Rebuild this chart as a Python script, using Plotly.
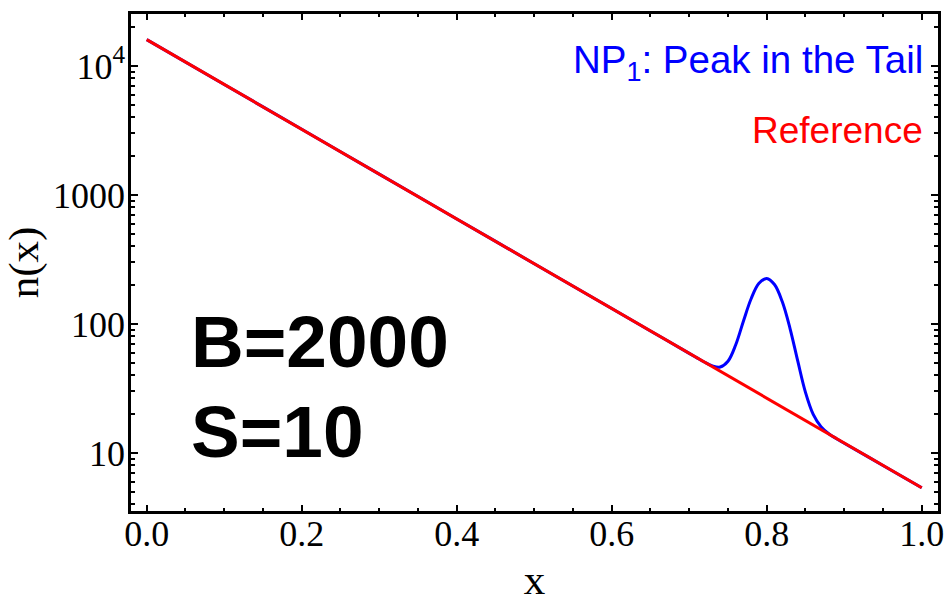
import plotly.graph_objects as go

# Reference spectrum: a pure exponential, straight on the log axis
ref_x = [0.0, 1.0]
ref_n = [16000.0, 5.37]

# New-physics spectrum: the same falling exponential with a bump near x = 0.8
np_x = [0.0, 0.1, 0.2, 0.3, 0.4, 0.5, 0.6, 0.65,
        0.70, 0.71, 0.72, 0.73, 0.74, 0.75, 0.76, 0.77, 0.78, 0.79,
        0.80, 0.81, 0.82, 0.83, 0.84, 0.85, 0.86, 0.87, 0.88, 0.89,
        0.90, 0.95, 1.0]
np_n = [16000.0, 7190.0, 3230.0, 1451.0, 652.0, 293.0, 131.7, 88.3,
        59.2, 54.6, 50.5, 47.3, 46.4, 51.4, 69.0, 105.5, 157.6, 206.5,
        225.6, 202.2, 149.1, 92.6, 51.7, 29.5, 19.9, 16.0, 14.1, 12.9,
        11.9, 8.0, 5.37]

y_tickvals = [10, 100, 1000, 10000]
y_ticktext = ["10", "100", "1000", "10<sup>4</sup>"]
x_tickvals = [0.0, 0.2, 0.4, 0.6, 0.8, 1.0]
x_ticktext = ["0.0", "0.2", "0.4", "0.6", "0.8", "1.0"]

y_minor = [m * 10 ** k for k in range(0, 5) for m in range(2, 10)]

serif = "Liberation Serif, Times New Roman, serif"
sans = "Liberation Sans, Arial, Helvetica, sans-serif"

# plot area in pixels: left 131, right 938, top 14, bottom 511
PL, PR, PT, PB = 131, 938, 14, 511
PW, PH = PR - PL, PB - PT
X_RANGE = [-0.0203, 1.021]
Y_RANGE = [0.55, 4.403]


def ypaper(py):
    return (PB - py) / PH


fig = go.Figure()
fig.add_trace(go.Scatter(x=np_x, y=np_n, mode="lines", line_shape="spline",
                         line=dict(color="#0000ff", width=3), showlegend=False))
fig.add_trace(go.Scatter(x=ref_x, y=ref_n, mode="lines", xaxis="x2", yaxis="y2",
                         line=dict(color="#ff0000", width=3), showlegend=False))

frame = dict(showgrid=False, zeroline=False, showline=True, linewidth=3,
             linecolor="black", mirror="allticks", ticks="inside",
             tickcolor="black", showticklabels=False, automargin=False)

fig.update_layout(
    width=948, height=603,
    margin=dict(l=PL, r=948 - PR, t=PT, b=603 - PB),
    paper_bgcolor="white", plot_bgcolor="white",
    font=dict(family=serif, color="black", size=36),
    # frame axes: lines and tick marks
    xaxis=dict(
        range=X_RANGE, ticklen=6, tickwidth=2,
        tickmode="array", tickvals=x_tickvals,
        minor=dict(ticks="inside", dtick=0.05, tick0=0, ticklen=3,
                   tickwidth=2, tickcolor="black", showgrid=False),
        **frame,
    ),
    yaxis=dict(
        type="log", range=Y_RANGE, ticklen=7, tickwidth=2,
        tickmode="array", tickvals=y_tickvals,
        minor=dict(ticks="inside", tickmode="array", tickvals=y_minor,
                   ticklen=4, tickwidth=1.5, tickcolor="black", showgrid=False),
        **frame,
    ),
    # label axes: tick labels and titles
    xaxis2=dict(
        range=X_RANGE, overlaying="x", anchor="free", position=2 / PH,
        side="bottom", showgrid=False, zeroline=False, showline=False,
        ticks="", tickmode="array", tickvals=x_tickvals, ticktext=x_ticktext,
        tickfont=dict(family=serif, size=36), automargin=False,
        title=dict(text="x", font=dict(family=serif, size=43), standoff=19),
    ),
    yaxis2=dict(
        type="log", range=Y_RANGE, overlaying="y", anchor="free",
        position=0, side="left", showgrid=False, zeroline=False,
        showline=False, ticks="", tickmode="array", tickvals=y_tickvals,
        ticktext=y_ticktext, tickfont=dict(family=serif, size=36),
        ticklabelstandoff=6, automargin=False,
        title=dict(text="n(x)", font=dict(family=serif, size=43), standoff=0),
    ),
)

fig.add_annotation(xref="paper", yref="paper", x=0.9835, y=ypaper(63),
                   xanchor="right", yanchor="middle", showarrow=False,
                   text="NP<sub>1</sub>: Peak in the Tail",
                   font=dict(family=sans, size=38.5, color="#0000ff"))
fig.add_annotation(xref="paper", yref="paper", x=0.9835, y=ypaper(130),
                   xanchor="right", yanchor="middle", showarrow=False,
                   text="Reference",
                   font=dict(family=sans, size=37, color="#ff0000"))
fig.add_annotation(xref="paper", yref="paper", x=0.0713, y=ypaper(341),
                   xanchor="left", yanchor="middle", showarrow=False,
                   text="<b>B=2000</b>",
                   font=dict(family=sans, size=73, color="black"))
fig.add_annotation(xref="paper", yref="paper", x=0.0713, y=ypaper(431),
                   xanchor="left", yanchor="middle", showarrow=False,
                   text="<b>S=10</b>",
                   font=dict(family=sans, size=73, color="black"))

fig.write_html("out.html")
